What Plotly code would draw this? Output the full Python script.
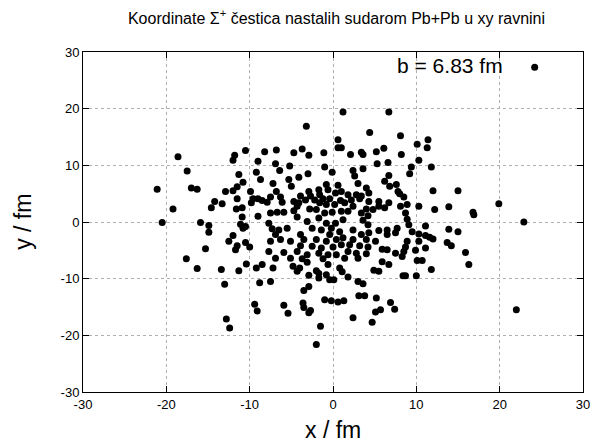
import plotly.graph_objects as go

# --- data (x / fm, y / fm), grouped by region ---
x_top = [-18.6,-11.8,-10.5,-3.2,1.2,0.6,-8.2,-6.8,-4.7,-3.7,-2.9,-1.1,0.6,1.0,6.7,4.4,8.1,10.1,11.4,11.3,2.1,3.4,3.6,5.2,6.1,8.2,24.2]
y_top = [11.5,11.8,12.6,16.9,19.4,14.5,12.4,12.7,12.2,12.9,11.8,12.2,13.1,13.1,19.4,15.8,15.2,13.7,14.5,13.1,11.9,12.3,11.9,12.4,13.0,11.9,27.3]

x_left = [-12.0,-17.5,-11.3,-10.8,-11.5,-21.1,-17.0,-16.3,-12.9,-12.0,-11.5,-14.2,-13.3,-14.6,-11.6,-10.9,-19.2,-10.9,-20.5,-15.9,-14.9,-14.9,-11.1,-10.8,-10.5,-12.0,-12.5,-11.5,-11.7,-10.5,-15.3,-17.6]
y_left = [10.9,9.0,8.4,7.0,6.2,5.8,6.0,5.8,5.4,5.5,4.1,3.6,3.2,2.5,2.3,2.5,2.3,0.9,-0.1,-0.1,-0.6,-1.8,-0.4,-1.1,-0.8,-2.4,-3.4,-4.2,-4.9,-3.6,-4.7,-6.5]

x_cl = [-9.0,-6.9,-5.2,-1.0,-0.1,-9.2,-6.4,-3.0,-4.1,-8.7,-5.3,-0.8,0.6,-7.2,-5.0,-9.9,-6.8,-2.9,-1.7,-0.6,0.3,1.0,-7.5,-6.3,-3.9,-2.7,-1.6,-9.6,-9.0,-8.5,-4.7,-4.1,-3.3,-2.2,-1.2,-0.4,0.9,-9.8,-7.9,-6.1,-4.3,-1.6,-0.8,0.2,1.4,-7.5,-6.7,-5.9,-4.7,-2.8,-2.0,-1.0,-0.1,1.0,-9.0,-4.3,-3.1,-1.7,-0.8,0.3,1.2,-7.7,-7.3,-6.5,-5.5,-2.5,-1.4,-0.2,0.8,-6.9,-3.9,-0.4,1.2,-6.3,-5.1,-3.5,-2.0,-0.8,0.4,-7.5,-3.9,-2.5,-1.4,0.0,1.0,-10.0,-7.7,-5.9,-4.3,-3.1,-1.7,-0.6,0.4,-6.9,-5.1,-3.7,-1.2,1.4]
y_cl = [10.7,10.3,9.9,9.7,8.8,8.8,9.1,8.5,7.9,7.5,7.5,6.6,6.5,6.8,6.3,5.4,5.4,5.4,5.7,5.7,5.1,5.4,4.4,4.4,4.6,4.6,4.8,4.1,4.1,3.8,3.6,3.4,3.9,3.9,4.1,4.1,3.8,3.4,3.5,3.5,2.8,3.4,3.1,3.1,3.4,1.6,1.7,1.7,2.0,2.3,2.2,1.6,1.7,1.9,1.0,0.9,0.1,0.7,-0.2,-0.2,0.4,-0.2,-1.2,-1.4,-1.1,-1.1,-1.4,-1.1,-1.7,-2.2,-2.2,-2.2,-2.8,-3.1,-3.4,-3.1,-3.1,-3.4,-3.1,-3.4,-4.2,-4.3,-4.6,-4.4,-4.0,-4.4,-5.2,-5.4,-5.2,-5.8,-5.5,-5.8,-5.8,-6.4,-6.4,-6.5,-6.5,-6.4]

x_cr = [5.3,6.6,9.4,10.3,11.8,2.4,3.6,9.2,2.6,6.7,6.2,3.0,7.6,6.8,4.0,12.0,7.8,8.0,1.8,2.8,3.4,4.3,8.5,2.2,3.2,4.3,5.5,6.7,8.9,10.3,12.2,2.4,5.5,6.2,8.1,4.0,4.8,1.8,3.4,4.2,8.7,8.9,3.6,4.2,9.1,11.1,2.4,5.5,6.5,7.7,4.3,7.5,9.5,3.4,6.5,10.3,11.1,11.6,2.4,4.0,5.1,8.9,10.3,12.0,2.0,3.2,4.2,5.9,6.5,8.7,11.1,1.8,2.8,4.0,7.5,8.5,9.9,3.0,8.3]
y_cr = [10.3,10.5,9.7,10.9,9.7,9.1,9.4,8.5,8.1,8.2,7.2,6.8,6.6,6.3,6.0,5.5,5.4,5.0,4.8,4.8,4.6,5.1,4.4,3.9,4.1,3.6,3.6,3.4,3.1,2.8,2.2,2.8,2.8,2.5,2.8,2.3,2.2,1.9,1.6,1.1,1.6,0.5,0.3,-0.5,-0.5,-0.7,-1.4,-1.5,-1.4,-1.1,-1.9,-1.9,-1.7,-2.2,-2.2,-2.1,-2.4,-2.7,-3.1,-3.1,-3.4,-3.4,-3.4,-3.0,-4.0,-4.2,-4.4,-4.8,-4.9,-4.4,-4.6,-5.2,-5.5,-5.6,-5.5,-5.2,-5.0,-6.4,-6.1]

x_right = [15.0,13.9,16.8,16.9,19.9,22.9,13.9,15.0,13.7,14.2,15.9]
y_right = [5.5,2.7,1.7,1.3,3.2,0.0,-1.3,-1.7,-3.6,-4.2,-5.4]

x_bot = [-16.3,-13.4,-11.3,-10.4,-13.0,-12.8,-12.4,-9.2,-8.5,-7.2,-4.8,-4.3,-4.0,-3.1,-0.6,-2.9,-2.0,-1.7,-1.7,-0.8,0.8,1.1,-0.4,0.1,-8.8,-7.5,-2.9,-3.5,-1.0,-0.2,0.6,1.3,-9.4,-9.1,-5.9,-5.4,-3.6,-3.5,-2.7,-2.9,-1.5,-2.0,5.9,6.7,4.9,5.5,10.1,10.7,11.8,1.8,8.4,8.7,10.0,3.0,3.6,3.1,3.8,5.2,6.9,7.4,5.1,5.7,2.4,4.7,16.3,22.0]
y_bot = [-8.2,-8.4,-8.6,-7.4,-11.0,-17.1,-18.7,-8.1,-7.5,-8.1,-7.8,-8.7,-8.1,-7.1,-7.5,-9.4,-8.6,-9.1,-9.9,-9.3,-8.1,-8.8,-10.2,-10.2,-10.7,-10.5,-11.4,-12.1,-13.7,-13.9,-14.1,-13.9,-14.5,-15.7,-14.7,-16.1,-14.3,-15.1,-15.6,-16.0,-18.4,-21.6,-7.0,-7.5,-8.5,-8.7,-6.8,-6.8,-8.4,-9.7,-9.5,-9.5,-9.5,-10.5,-10.9,-13.0,-13.0,-13.4,-14.2,-15.4,-15.9,-15.5,-16.9,-17.7,-7.5,-15.5]

tick_vals = [-30, -20, -10, 0, 10, 20, 30]
title_text = "Koordinate Σ<sup>+</sup> čestica nastalih sudarom Pb+Pb u xy ravnini"
b_label = "b = 6.83 fm"

groups = [(x_top, y_top), (x_left, y_left), (x_cl, y_cl), (x_cr, y_cr), (x_right, y_right), (x_bot, y_bot)]
xs, ys = [], []
for gx, gy in groups:
    assert len(gx) == len(gy), (len(gx), len(gy))
    xs += gx
    ys += gy

FONT = "Liberation Sans, Arial, sans-serif"

# page body has an 8px margin: figure is sized/offset so the plot lands where the reference has it
W, H, OFF = 592, 435, 8
PL, PR, PT, PB = 83, 590, 52, 392   # plot area in window pixels
pw, ph = PR - PL, PB - PT

fig = go.Figure()
fig.add_trace(go.Scatter(
    x=xs, y=ys, mode="markers",
    marker=dict(symbol="circle", size=7, color="black", line=dict(width=0)),
    showlegend=False, hoverinfo="skip",
))

axis_common = dict(
    range=[-30, 30], tickvals=tick_vals, ticktext=[str(v) for v in tick_vals],
    showgrid=True, gridcolor="#b0b0b0", griddash="dot", gridwidth=1,
    zeroline=False, showline=True, linecolor="black", linewidth=1, mirror="allticks",
    ticks="inside", ticklen=6, tickcolor="black",
    tickfont=dict(family=FONT, size=13, color="black"),
)
fig.update_xaxes(**axis_common)
fig.update_yaxes(**axis_common)

fig.update_layout(
    width=W, height=H,
    margin=dict(l=PL - OFF, r=W + OFF - PR, t=PT - OFF, b=H + OFF - PB),
    paper_bgcolor="white", plot_bgcolor="white",
    title=dict(text=title_text, x=(336.5 - OFF) / W, xanchor="center", y=1 - (18 - OFF) / H,
               yanchor="middle", xref="container", yref="container",
               font=dict(family=FONT, size=16, color="black")),
    annotations=[
        dict(text=b_label, x=20.6, y=27.6, xref="x", yref="y", xanchor="right", yanchor="middle",
             showarrow=False, font=dict(family=FONT, size=21, color="black")),
        dict(text="x / fm", x=0.5, y=(PB - 430) / ph, xref="paper", yref="paper",
             xanchor="center", yanchor="middle",
             showarrow=False, font=dict(family=FONT, size=23, color="black")),
        dict(text="y / fm", x=(22 - PL) / pw, y=0.5, xref="paper", yref="paper",
             xanchor="center", yanchor="middle",
             textangle=-90, showarrow=False, font=dict(family=FONT, size=23, color="black")),
    ],
)

fig.write_html("out.html")
